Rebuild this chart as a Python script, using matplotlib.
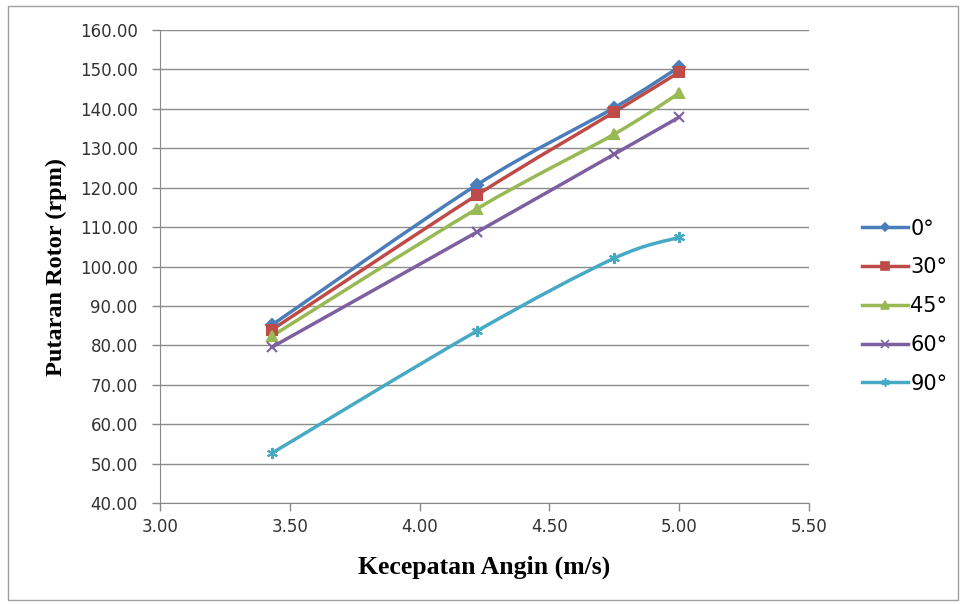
import numpy as np
import matplotlib.pyplot as plt
from matplotlib.path import Path
from matplotlib.patches import PathPatch, Rectangle
from matplotlib.lines import Line2D

kecepatan = [3.43, 4.22, 4.75, 5.00]
labels = ['0°', '30°', '45°', '60°', '90°']
rpm_0 = [85.1, 120.7, 140.3, 150.6]
rpm_30 = [83.9, 118.1, 139.2, 149.3]
rpm_45 = [82.3, 114.6, 133.6, 144.0]
rpm_60 = [79.5, 108.7, 128.5, 137.9]
rpm_90 = [52.6, 83.6, 102.1, 107.4]
series = [rpm_0, rpm_30, rpm_45, rpm_60, rpm_90]

colors = ['#4A7EBB', '#BE4B48', '#98B954', '#7D60A0', '#46AAC5']
markers = ['D', 's', '^', 'x', (6, 2, 0)]
msizes = [6, 7, 7, 7, 8]


def smooth_path(xs, ys):
    # bezier smoothing, like the spreadsheet "smoothed line" option
    pts = np.column_stack([xs, ys])
    n = len(pts)
    verts = [pts[0]]
    codes = [Path.MOVETO]
    for i in range(n - 1):
        p0 = pts[max(i - 1, 0)]
        p1 = pts[i]
        p2 = pts[i + 1]
        p3 = pts[min(i + 2, n - 1)]
        c1 = p1 + (p2 - p0) / 6
        c2 = p2 - (p3 - p1) / 6
        verts += [c1, c2, p2]
        codes += [Path.CURVE4] * 3
    return Path(verts, codes)


fig = plt.figure(figsize=(9.66, 6.05), dpi=100)
ax = fig.add_axes([0.1656, 0.1686, 0.6719, 0.7818])

fig.patches.append(Rectangle((0.008, 0.008), 0.984, 0.982, transform=fig.transFigure,
                             fill=False, edgecolor='#A0A0A0', lw=1))

handles = []
for vals, lab, c, m, ms in zip(series, labels, colors, markers, msizes):
    ax.add_patch(PathPatch(smooth_path(kecepatan, vals), fill=False, edgecolor=c, lw=2.5, zorder=3))
    ax.plot(kecepatan, vals, ls='none', marker=m, color=c, ms=ms, mew=1.5, zorder=4)
    handles.append(Line2D([], [], color=c, lw=2.5, marker=m, ms=ms * 0.75, mew=1.2, label=lab))

ax.set_xlim(3.0, 5.5)
ax.set_ylim(40, 160)
ax.set_xticks(np.arange(3.0, 5.51, 0.5))
ax.set_yticks(np.arange(40, 161, 10))
ax.set_xticklabels([f'{v:.2f}' for v in np.arange(3.0, 5.51, 0.5)])
ax.set_yticklabels([f'{v:.2f}' for v in np.arange(40, 161, 10)])
ax.tick_params(labelsize=12, length=6, width=1, color='#888888', labelcolor='#333333')
ax.tick_params(axis='x', pad=5)
ax.tick_params(axis='y', pad=10)

ax.grid(axis='y', color='#8C8C8C', lw=1)
ax.set_axisbelow(True)
for s in ['top', 'right']:
    ax.spines[s].set_visible(False)
for s in ['left', 'bottom']:
    ax.spines[s].set_color('#888888')

ax.set_xlabel('Kecepatan Angin (m/s)', fontsize=18.5, fontweight='bold',
              fontfamily='Liberation Serif', labelpad=14)
ax.set_ylabel('Putaran Rotor (rpm)', fontsize=17.5, fontweight='bold',
              fontfamily='Liberation Serif', labelpad=9)

fig.legend(handles=handles, loc='center left', bbox_to_anchor=(0.884, 0.494),
           frameon=False, prop={'family': 'DejaVu Sans', 'size': 15}, handlelength=2.2,
           handletextpad=0.1, labelspacing=0.9, borderaxespad=0)

fig.savefig('out.png', dpi=100)
